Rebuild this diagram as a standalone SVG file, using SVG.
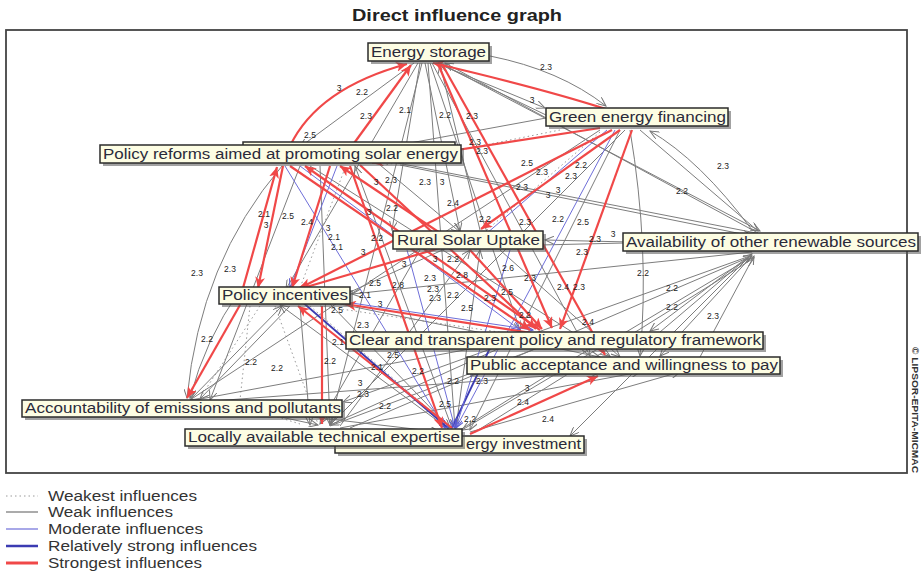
<svg xmlns="http://www.w3.org/2000/svg" width="923" height="573" viewBox="0 0 923 573">
<style>
.g{stroke:#7d7d7d;stroke-width:1;fill:none;marker-end:url(#ag)}
.d{stroke:#9a9a9a;stroke-width:1;stroke-dasharray:1.5 3;fill:none}
.b{stroke:#6e6ed8;stroke-width:1;fill:none;marker-end:url(#ab)}
.bs{stroke:#3b3bb2;stroke-width:1.8}
.r{stroke:#f04848;stroke-width:2.2;fill:none;marker-end:url(#ar)}
.lbl{font-family:"Liberation Sans",Arial,sans-serif;font-size:8.5px;fill:#222;text-anchor:middle}
.box{fill:#fdfde3;stroke:#2b2b2b;stroke-width:1.5}
.sh{fill:#555;opacity:.55}
.nt{font-family:"Liberation Sans",Arial,sans-serif;font-size:14px;fill:#2a2a3a}
.lg{font-family:"Liberation Sans",Arial,sans-serif;font-size:14px;fill:#333}
</style>
<defs>
<marker id="ag" markerWidth="10" markerHeight="8" refX="9" refY="4" orient="auto" markerUnits="userSpaceOnUse"><path d="M0,0 L9,4 L0,8" fill="none" stroke="#777" stroke-width="1"/></marker>
<marker id="ab" markerWidth="10" markerHeight="8" refX="9" refY="4" orient="auto" markerUnits="userSpaceOnUse"><path d="M0,0 L9,4 L0,8" fill="none" stroke="#5a5ad0" stroke-width="1"/></marker>
<marker id="ar" markerWidth="12" markerHeight="10" refX="11" refY="5" orient="auto" markerUnits="userSpaceOnUse"><path d="M0,0 L11,5 L0,10 L3,5 Z" fill="#f04848"/></marker>
</defs>
<rect width="923" height="573" fill="#fff"/>
<text x="352" y="21" font-family="Liberation Sans,Arial,sans-serif" font-size="17" font-weight="bold" fill="#222" textLength="210" lengthAdjust="spacingAndGlyphs">Direct influence graph</text>
<rect x="6" y="30" width="901" height="443" fill="none" stroke="#444" stroke-width="1.8"/>

<g id="connectors">
<path class="d" d="M260,306 L200,398"/>
<path class="d" d="M275,306 L318,424"/>
<path class="d" d="M600,132 L480,236"/>
<path class="d" d="M310,306 L450,428"/>
<path class="d" d="M230,402 L300,424"/>
<path class="d" d="M345,168 L300,288"/>
<path class="d" d="M320,306 L540,338"/>
<path class="d" d="M560,130 L380,166"/>
<path class="d" d="M250,306 L240,400"/>
<path class="g" d="M758,233 L445,63"/>
<path class="g" d="M756,233 L372,158"/>
<path class="g" d="M755,245 L545,240"/>
<path class="g" d="M752,252 L352,294"/>
<path class="g" d="M752,254 L650,331"/>
<path class="g" d="M752,256 L660,356"/>
<path class="g" d="M750,256 L343,402"/>
<path class="g" d="M750,258 L462,430"/>
<path class="g" d="M748,258 L570,436"/>
<path class="g" d="M640,130 L758,231"/>
<path class="g" d="M752,230 Q700,160 650,131"/>
<path class="g" d="M490,56 Q560,70 606,106"/>
<path class="g" d="M440,63 L760,231"/>
<path class="g" d="M418,63 L286,289"/>
<path class="g" d="M414,63 L300,147"/>
<path class="g" d="M425,63 L460,231"/>
<path class="g" d="M430,63 L520,330"/>
<path class="g" d="M428,63 L455,428"/>
<path class="g" d="M422,63 L330,424"/>
<path class="g" d="M432,63 L590,356"/>
<path class="g" d="M420,63 L392,230"/>
<path class="g" d="M436,63 L545,108"/>
<path class="g" d="M282,166 Q200,262 187,398"/>
<path class="g" d="M400,165 L752,236"/>
<path class="g" d="M380,165 L460,232"/>
<path class="g" d="M310,166 L610,356"/>
<path class="g" d="M300,166 L210,400"/>
<path class="g" d="M320,166 L330,425"/>
<path class="g" d="M240,290 Q205,340 190,398"/>
<path class="g" d="M290,306 L200,399"/>
<path class="g" d="M300,306 L310,425"/>
<path class="g" d="M350,292 L460,242"/>
<path class="g" d="M340,304 L600,357"/>
<path class="g" d="M330,304 L450,428"/>
<path class="g" d="M190,400 L282,306"/>
<path class="g" d="M195,400 L540,336"/>
<path class="g" d="M200,402 L600,372"/>
<path class="g" d="M200,404 L440,432"/>
<path class="g" d="M220,404 L318,425"/>
<path class="g" d="M330,426 L570,336"/>
<path class="g" d="M340,428 L640,372"/>
<path class="g" d="M350,428 L752,256"/>
<path class="g" d="M340,426 L470,250"/>
<path class="g" d="M460,430 L610,336"/>
<path class="g" d="M470,432 L680,372"/>
<path class="g" d="M475,432 L754,258"/>
<path class="g" d="M456,428 L480,250"/>
<path class="g" d="M452,428 L355,166"/>
<path class="g" d="M450,430 L280,305"/>
<path class="g" d="M600,130 L190,400"/>
<path class="g" d="M625,130 L330,425"/>
<path class="g" d="M630,130 Q650,250 640,356"/>
<path class="g" d="M620,130 L470,430"/>
<path class="g" d="M546,118 L372,150"/>
<path class="g" d="M546,115 L440,64"/>
<path class="g" d="M540,245 L752,240"/>
<path class="g" d="M500,250 L620,357"/>
<path class="g" d="M420,250 L320,424"/>
<path class="g" d="M480,230 L440,64"/>
<path class="g" d="M660,332 L752,254"/>
<path class="g" d="M500,348 L330,425"/>
<path class="g" d="M700,357 L754,256"/>
<path class="b" d="M615,130 L456,428"/>
<path class="b" d="M607,130 L472,246"/>
<path class="b" d="M337,166 L290,288"/>
<path class="b" d="M285,166 L445,428"/>
<path class="b" d="M300,166 L520,330"/>
<path class="b bs" d="M300,300 L448,428"/>
<path class="b" d="M345,302 L533,330"/>
<path class="b bs" d="M490,348 L452,428"/>
<path class="b" d="M510,250 L456,428"/>
<path class="b" d="M407,250 L455,428"/>
<path class="r" d="M290,146 Q318,88 407,64"/>
<path class="r" d="M352,146 L411,65"/>
<path class="r" d="M606,109 Q540,88 433,63"/>
<path class="r" d="M438,64 L552,328"/>
<path class="r" d="M442,64 L605,355"/>
<path class="r" d="M600,128 L372,163"/>
<path class="r" d="M612,130 L300,288"/>
<path class="r" d="M620,130 L481,229"/>
<path class="r" d="M632,130 L560,329"/>
<path class="r" d="M440,233 L340,166"/>
<path class="r" d="M540,330 L305,166"/>
<path class="r" d="M360,165 L536,329"/>
<path class="r" d="M290,166 L530,330"/>
<path class="r" d="M330,166 L292,288"/>
<path class="r" d="M243,288 L277,167"/>
<path class="r" d="M283,166 L258,288"/>
<path class="r" d="M240,305 L187,398"/>
<path class="r" d="M440,248 L296,290"/>
<path class="r" d="M545,335 L345,304"/>
<path class="r" d="M452,428 L298,306"/>
<path class="r" d="M322,306 L322,424"/>
<path class="r" d="M470,434 L598,376"/>
<path class="r" d="M470,250 L542,329"/>
<path class="r" d="M350,166 L442,428"/>
</g>

<g id="edge-labels">
<text class="lbl" x="339" y="91">3</text><text class="lbl" x="362" y="95">2.2</text><text class="lbl" x="366" y="119">2.3</text><text class="lbl" x="405" y="113">2.1</text><text class="lbl" x="445" y="118">2.2</text><text class="lbl" x="472" y="119">2.3</text><text class="lbl" x="546" y="70">2.3</text><text class="lbl" x="532" y="103">3</text><text class="lbl" x="310" y="138">2.5</text><text class="lbl" x="475" y="145">2.3</text><text class="lbl" x="482" y="154">2.3</text>
<text class="lbl" x="376" y="185">3</text><text class="lbl" x="391" y="183">2.3</text><text class="lbl" x="425" y="185">2.3</text><text class="lbl" x="442" y="185">3</text>
<text class="lbl" x="527" y="166">2.5</text><text class="lbl" x="542" y="175">2.3</text><text class="lbl" x="581" y="168">2.2</text><text class="lbl" x="571" y="179">2.3</text><text class="lbl" x="723" y="169">2.3</text>
<text class="lbl" x="522" y="190">2.3</text><text class="lbl" x="548" y="198">3</text><text class="lbl" x="558" y="193">3</text><text class="lbl" x="682" y="194">2.2</text>
<text class="lbl" x="264" y="217">2.1</text><text class="lbl" x="266" y="228">3</text><text class="lbl" x="288" y="219">2.5</text><text class="lbl" x="307" y="225">2.4</text>
<text class="lbl" x="369" y="215">3</text><text class="lbl" x="392" y="211">2.2</text><text class="lbl" x="453" y="206">2.4</text><text class="lbl" x="328" y="231">3</text><text class="lbl" x="334" y="240">2.1</text><text class="lbl" x="337" y="250">2.1</text>
<text class="lbl" x="377" y="241">2.2</text><text class="lbl" x="363" y="255">3</text><text class="lbl" x="485" y="222">2.2</text><text class="lbl" x="525" y="225">2.3</text><text class="lbl" x="558" y="222">2.2</text><text class="lbl" x="583" y="225">2.5</text>
<text class="lbl" x="595" y="242">2.3</text><text class="lbl" x="613" y="237">3</text><text class="lbl" x="582" y="255">2.3</text>
<text class="lbl" x="197" y="276">2.3</text><text class="lbl" x="230" y="272">2.3</text><text class="lbl" x="404" y="267">3</text><text class="lbl" x="435" y="262">3</text><text class="lbl" x="453" y="262">2.2</text>
<text class="lbl" x="508" y="271">2.6</text><text class="lbl" x="530" y="281">2.3</text><text class="lbl" x="643" y="276">2.2</text><text class="lbl" x="462" y="278">2.8</text>
<text class="lbl" x="430" y="281">2.3</text><text class="lbl" x="375" y="286">2.5</text><text class="lbl" x="398" y="288">2.8</text><text class="lbl" x="433" y="292">2.3</text><text class="lbl" x="563" y="290">2.4</text><text class="lbl" x="579" y="290">2.3</text>
<text class="lbl" x="672" y="291">2.2</text><text class="lbl" x="365" y="298">2.1</text><text class="lbl" x="435" y="301">2.3</text><text class="lbl" x="453" y="298">2.2</text><text class="lbl" x="490" y="301">2.3</text><text class="lbl" x="507" y="295">2.5</text>
<text class="lbl" x="380" y="307">3</text><text class="lbl" x="337" y="313">2.5</text><text class="lbl" x="467" y="311">2.5</text><text class="lbl" x="672" y="310">2.2</text><text class="lbl" x="525" y="318">2.2</text><text class="lbl" x="713" y="319">2.3</text>
<text class="lbl" x="588" y="325">2.4</text><text class="lbl" x="363" y="328">2.3</text>
<text class="lbl" x="207" y="342">2.2</text><text class="lbl" x="338" y="345">2.1</text><text class="lbl" x="393" y="358">2.5</text><text class="lbl" x="251" y="365">2.2</text><text class="lbl" x="277" y="371">2.2</text><text class="lbl" x="330" y="364">2.2</text><text class="lbl" x="377" y="370">2.1</text><text class="lbl" x="418" y="374">2.2</text>
<text class="lbl" x="453" y="384">2.2</text><text class="lbl" x="482" y="384">2.3</text><text class="lbl" x="360" y="386">3</text><text class="lbl" x="363" y="397">2.3</text><text class="lbl" x="527" y="391">3</text><text class="lbl" x="523" y="405">2.4</text>
<text class="lbl" x="385" y="409">2.2</text><text class="lbl" x="445" y="407">2.5</text><text class="lbl" x="470" y="422">2.2</text><text class="lbl" x="548" y="422">2.4</text>
</g>

<g id="node-hidden">
<rect class="sh" x="246" y="145" width="212" height="18"/>
<rect class="box" x="243" y="142" width="212" height="18"/>
</g>
<g id="node-energy-storage">
<rect class="sh" x="371" y="46" width="121" height="18"/>
<rect class="box" x="368" y="43" width="121" height="18"/>
<text class="nt" x="371" y="57" textLength="115" lengthAdjust="spacingAndGlyphs">Energy storage</text>
</g>
<g id="node-green-energy-financing">
<rect class="sh" x="549" y="111" width="182" height="18"/>
<rect class="box" x="546" y="108" width="182" height="18"/>
<text class="nt" x="549" y="122" textLength="177" lengthAdjust="spacingAndGlyphs">Green energy financing</text>
</g>
<g id="node-policy-reforms">
<rect class="sh" x="103" y="148" width="361" height="18"/>
<rect class="box" x="100" y="145" width="361" height="18"/>
<text class="nt" x="103" y="159" textLength="355" lengthAdjust="spacingAndGlyphs">Policy reforms aimed at promoting solar energy</text>
</g>
<g id="node-rural-solar-uptake">
<rect class="sh" x="396" y="234" width="150" height="18"/>
<rect class="box" x="393" y="231" width="150" height="18"/>
<text class="nt" x="397" y="245" textLength="143" lengthAdjust="spacingAndGlyphs">Rural Solar Uptake</text>
</g>
<g id="node-availability">
<rect class="sh" x="626" y="236" width="295" height="18"/>
<rect class="box" x="623" y="233" width="295" height="18"/>
<text class="nt" x="626" y="247" textLength="290" lengthAdjust="spacingAndGlyphs">Availability of other renewable sources</text>
</g>
<g id="node-policy-incentives">
<rect class="sh" x="222" y="290" width="131" height="17"/>
<rect class="box" x="219" y="287" width="131" height="17"/>
<text class="nt" x="222" y="300" textLength="126" lengthAdjust="spacingAndGlyphs">Policy incentives</text>
</g>
<g id="node-clear-framework">
<rect class="sh" x="349" y="335" width="417" height="17"/>
<rect class="box" x="346" y="332" width="417" height="17"/>
<text class="nt" x="349" y="345" textLength="412" lengthAdjust="spacingAndGlyphs">Clear and transparent policy and regulatory framework</text>
</g>
<g id="node-public-acceptance">
<rect class="sh" x="470" y="360" width="313" height="17"/>
<rect class="box" x="467" y="357" width="313" height="17"/>
<text class="nt" x="470" y="370" textLength="308" lengthAdjust="spacingAndGlyphs">Public acceptance and willingness to pay</text>
</g>
<g id="node-accountability">
<rect class="sh" x="25" y="403" width="320" height="17"/>
<rect class="box" x="22" y="400" width="320" height="17"/>
<text class="nt" x="25" y="413" textLength="316" lengthAdjust="spacingAndGlyphs">Accountability of emissions and pollutants</text>
</g>
<g id="node-energy-investment">
<rect class="sh" x="338" y="439" width="249" height="17"/>
<rect class="box" x="335" y="436" width="249" height="17"/>
<text class="nt" x="466" y="449" textLength="115" lengthAdjust="spacingAndGlyphs">ergy investment</text>
</g>
<g id="node-local-expertise">
<rect class="sh" x="188" y="432" width="277" height="17"/>
<rect class="box" x="185" y="429" width="277" height="17"/>
<text class="nt" x="188" y="442" textLength="272" lengthAdjust="spacingAndGlyphs">Locally available technical expertise</text>
</g>

<text transform="translate(912,347) rotate(90)" font-family="Liberation Sans,Arial,sans-serif" font-size="9.5" font-weight="bold" fill="#333" textLength="126" lengthAdjust="spacingAndGlyphs">© LIPSOR-EPITA-MICMAC</text>

<g id="legend">
<line x1="6" y1="496" x2="38" y2="496" stroke="#9a9a9a" stroke-width="1" stroke-dasharray="1.5 3"/>
<text class="lg" x="48" y="501" textLength="149" lengthAdjust="spacingAndGlyphs">Weakest influences</text>
<line x1="6" y1="512" x2="38" y2="512" stroke="#7d7d7d" stroke-width="1.3"/>
<text class="lg" x="48" y="517" textLength="125" lengthAdjust="spacingAndGlyphs">Weak influences</text>
<line x1="6" y1="529" x2="38" y2="529" stroke="#6e6ed8" stroke-width="1.2"/>
<text class="lg" x="48" y="534" textLength="155" lengthAdjust="spacingAndGlyphs">Moderate influences</text>
<line x1="6" y1="546" x2="38" y2="546" stroke="#3b3bb2" stroke-width="2.5"/>
<text class="lg" x="48" y="551" textLength="209" lengthAdjust="spacingAndGlyphs">Relatively strong influences</text>
<line x1="6" y1="563" x2="38" y2="563" stroke="#f04848" stroke-width="3"/>
<text class="lg" x="48" y="568" textLength="154" lengthAdjust="spacingAndGlyphs">Strongest influences</text>
</g>
</svg>
